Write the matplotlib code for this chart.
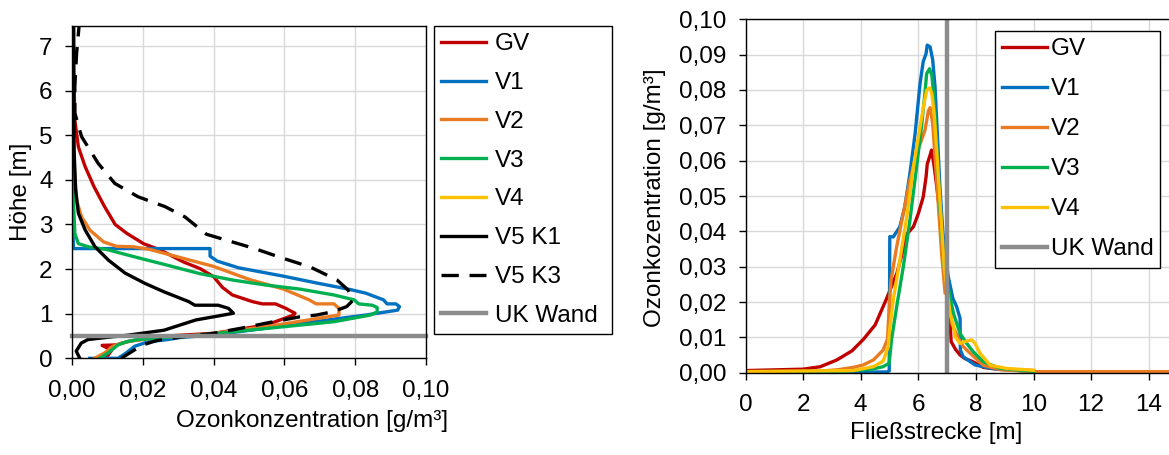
import matplotlib
matplotlib.use("Agg")
import matplotlib.pyplot as plt
from matplotlib.ticker import FuncFormatter, MultipleLocator

plt.rcParams['font.family'] = ['Liberation Sans', 'DejaVu Sans']
FS = 17.5

# ---------------- Left chart: concentration profile over height ----------------
gv_conc = [0.0098, 0.0112, 0.0085, 0.0125, 0.016, 0.022, 0.0268, 0.040, 0.055, 0.0626, 0.063, 0.0604,
           0.0575, 0.0538, 0.051, 0.0453, 0.0425, 0.040, 0.0362, 0.0315, 0.0249, 0.0202, 0.0155, 0.0122,
           0.0092, 0.0062, 0.0037, 0.0018, 0.0008, 0.0005, 0.0005]
gv_h = [0.03, 0.18, 0.29, 0.30, 0.38, 0.45, 0.50, 0.56, 0.75, 0.97, 1.01, 1.12,
        1.22, 1.22, 1.27, 1.42, 1.59, 1.83, 2.01, 2.16, 2.43, 2.57, 2.80, 3.00,
        3.40, 3.85, 4.30, 4.74, 5.34, 6.50, 7.45]

v1_conc = [0.005, 0.013, 0.0153, 0.0177, 0.0215, 0.027, 0.031, 0.040, 0.0645, 0.083, 0.092, 0.0925,
           0.0915, 0.089, 0.088, 0.083, 0.0787, 0.069, 0.0598, 0.047, 0.041, 0.039, 0.039, 0.0004,
           0.0003, 0.0002, 0.0002]
v1_h = [0.0, 0.0, 0.12, 0.27, 0.37, 0.42, 0.47, 0.52, 0.78, 0.97, 1.08, 1.16,
        1.22, 1.22, 1.31, 1.46, 1.54, 1.69, 1.84, 2.03, 2.18, 2.29, 2.46, 2.46,
        2.8, 4.0, 7.45]

v2_conc = [0.0064, 0.0092, 0.0116, 0.0139, 0.0175, 0.024, 0.036, 0.055, 0.0754, 0.0754, 0.074, 0.069,
           0.067, 0.0598, 0.050, 0.040, 0.031, 0.022, 0.0174, 0.0126, 0.0089, 0.0051, 0.0027, 0.0013,
           0.0008, 0.0006, 0.0003, 0.0002]
v2_h = [0.0, 0.12, 0.27, 0.34, 0.40, 0.46, 0.52, 0.71, 0.97, 1.12, 1.22, 1.22,
        1.31, 1.55, 1.77, 2.06, 2.25, 2.44, 2.50, 2.51, 2.61, 2.87, 3.17, 3.54,
        4.14, 4.4, 5.0, 7.45]

v3_conc = [0.0078, 0.0102, 0.013, 0.0153, 0.0185, 0.025, 0.036, 0.055, 0.074, 0.0843, 0.0862, 0.0862,
           0.0848, 0.081, 0.0797, 0.074, 0.0645, 0.055, 0.0457, 0.036, 0.0268, 0.0174, 0.0098, 0.0051,
           0.0018, 0.0008, 0.0004, 0.0002, 0.0001]
v3_h = [0.0, 0.12, 0.30, 0.37, 0.42, 0.46, 0.52, 0.67, 0.82, 0.97, 1.04, 1.14,
        1.19, 1.22, 1.31, 1.42, 1.55, 1.64, 1.75, 1.90, 2.09, 2.28, 2.44, 2.49,
        2.57, 2.80, 3.54, 4.2, 7.45]

v4_conc = []
v4_h = []

v5k1_conc = [0.0022, 0.0012, 0.0026, 0.0045, 0.010, 0.016, 0.026, 0.035, 0.040, 0.0456, 0.0442, 0.0413,
             0.0347, 0.033, 0.026, 0.0206, 0.015, 0.0103, 0.0065, 0.0037, 0.0018, 0.0010, 0.0006, 0.0005,
             0.0004]
v5k1_h = [0.0, 0.16, 0.34, 0.42, 0.47, 0.52, 0.63, 0.86, 0.93, 1.01, 1.12, 1.19,
          1.19, 1.27, 1.49, 1.68, 1.91, 2.2, 2.5, 2.88, 3.25, 3.8, 4.66, 5.78,
          7.45]

v5k3_conc = [0.0139, 0.0177, 0.020, 0.024, 0.030, 0.040, 0.0475, 0.0569, 0.0644, 0.0691, 0.074, 0.0776,
             0.0795, 0.078, 0.0748, 0.0672, 0.0597, 0.0512, 0.038, 0.0319, 0.0263, 0.0187, 0.0121, 0.0074,
             0.0027, 0.0008, 0.0008, 0.0013, 0.002]
v5k3_h = [0.0, 0.19, 0.30, 0.40, 0.47, 0.56, 0.67, 0.82, 0.93, 0.97, 1.05, 1.16,
          1.31, 1.53, 1.76, 2.05, 2.24, 2.47, 2.78, 3.17, 3.40, 3.62, 3.92, 4.37,
          4.97, 5.5, 6.09, 6.84, 7.45]

uk_wand_height = 0.5

# ---------------- Right chart: concentration along flow path ----------------
gv_x = [0, 2.0, 2.6, 3.17, 3.7, 4.1, 4.5, 4.88, 5.26, 5.62, 5.83, 6.0, 6.17, 6.27, 6.31, 6.41, 6.46,
        6.54, 6.64, 6.75, 6.87, 7.0, 7.1, 7.14, 7.3, 7.45, 7.62, 7.85, 8.26, 8.84, 10.0]
gv_y = [0.0006, 0.001, 0.0017, 0.0036, 0.0062, 0.0095, 0.0135, 0.0206, 0.0282, 0.0394, 0.0413, 0.045,
        0.0497, 0.0554, 0.059, 0.0616, 0.063, 0.059, 0.0527, 0.0451, 0.0376, 0.026, 0.0149, 0.0088,
        0.0065, 0.005, 0.004, 0.0033, 0.0015, 0.0009, 0.0006]

v1_x = [0, 4.9, 4.99, 5.01, 5.13, 5.36, 5.53, 5.71, 5.89, 6.06, 6.17, 6.27, 6.31, 6.41, 6.50, 6.58,
        6.66, 6.75, 6.87, 7.04, 7.2, 7.33, 7.45, 7.46, 7.56, 7.97, 8.55, 10.0]
v1_y = [0.0002, 0.0002, 0.0005, 0.0385, 0.0384, 0.0413, 0.0469, 0.0564, 0.0677, 0.0818, 0.088, 0.0903,
        0.0927, 0.0922, 0.0885, 0.081, 0.0677, 0.0527, 0.0376, 0.0272, 0.021, 0.0187, 0.0154, 0.0064,
        0.0045, 0.0022, 0.0012, 0.0003]

v2_x = [0, 2.5, 3.17, 3.74, 4.09, 4.44, 4.78, 4.93, 5.0, 5.05, 5.25, 5.48, 5.71, 5.94, 6.11, 6.23,
        6.29, 6.35, 6.41, 6.50, 6.59, 6.70, 6.81, 6.93, 7.05, 7.16, 7.39, 7.56, 7.8, 8.0, 8.26, 8.84,
        10.0, 14.75]
v2_y = [0.0003, 0.0004, 0.0008, 0.0015, 0.0022, 0.0036, 0.0064, 0.0095, 0.020, 0.026, 0.0357, 0.0451,
        0.0545, 0.062, 0.0658, 0.0686, 0.0713, 0.0741, 0.075, 0.0705, 0.0601, 0.0469, 0.0337, 0.0225,
        0.022, 0.014, 0.0097, 0.0074, 0.0055, 0.0040, 0.0021, 0.0009, 0.0003, 0.0003]

v3_x = [0, 3.5, 4.44, 4.78, 4.99, 5.07, 5.25, 5.48, 5.71, 5.94, 6.11, 6.23, 6.29, 6.39, 6.47, 6.55,
        6.64, 6.75, 6.90, 7.10, 7.22, 7.45, 7.68, 7.91, 8.26, 8.84, 10.0]
v3_y = [0.0003, 0.0004, 0.0011, 0.0017, 0.0027, 0.0093, 0.0187, 0.030, 0.0432, 0.0582, 0.0696, 0.079,
        0.0846, 0.086, 0.0842, 0.0771, 0.064, 0.047, 0.030, 0.0216, 0.0168, 0.0111, 0.0083, 0.0059,
        0.0031, 0.0012, 0.0004]

v4_x = [0, 3.74, 4.44, 4.78, 4.96, 4.99, 5.13, 5.36, 5.60, 5.83, 6.06, 6.20, 6.29, 6.39, 6.47, 6.55,
        6.66, 6.78, 6.90, 7.10, 7.20, 7.28, 7.45, 7.62, 7.85, 7.97, 8.14, 8.5, 9.07, 10.0]
v4_y = [0.0003, 0.0006, 0.0017, 0.0033, 0.0075, 0.0111, 0.0206, 0.0319, 0.0441, 0.0582, 0.0696, 0.0762,
        0.0799, 0.0806, 0.079, 0.0733, 0.0601, 0.0451, 0.030, 0.0168, 0.014, 0.0102, 0.0083, 0.0088,
        0.0093, 0.0083, 0.0055, 0.0021, 0.0012, 0.0007]

uk_wand_x = 7.0

C_GV = '#C00000'
C_V1 = '#0070C0'
C_V2 = '#E97B23'
C_V3 = '#00B050'
C_V4 = '#FFC000'
C_UK = '#8C8C8C'
LW = 2.4

W, H = 1169, 455
fig = plt.figure(figsize=(W / 100, H / 100), dpi=100)

comma2 = FuncFormatter(lambda v, p: f"{v:.2f}".replace('.', ','))


def style_axes(ax):
    ax.grid(True, color='#D9D9D9', linewidth=1.0)
    ax.set_axisbelow(True)
    ax.tick_params(direction='out', length=5, width=1, labelsize=FS, color='black')
    ax.tick_params(axis='x', pad=10.5)
    ax.tick_params(axis='y', pad=9)
    for s in ax.spines.values():
        s.set_color('black')
        s.set_linewidth(1.0)


leg_kw = dict(loc='upper left', bbox_transform=fig.transFigure, mode='expand', fontsize=FS,
              frameon=True, fancybox=False, edgecolor='black', framealpha=1, borderaxespad=0,
              handlelength=1.85, borderpad=0.3)

# Left axes
ax1 = fig.add_axes([72 / W, 1 - 358.3 / H, (426 - 72) / W, (358.3 - 26) / H])
ax1.plot(gv_conc, gv_h, color=C_GV, lw=LW, label='GV')
ax1.plot(v1_conc, v1_h, color=C_V1, lw=LW, label='V1')
ax1.plot(v2_conc, v2_h, color=C_V2, lw=LW, label='V2')
ax1.plot(v3_conc, v3_h, color=C_V3, lw=LW, label='V3')
ax1.plot(v4_conc, v4_h, color=C_V4, lw=LW, label='V4')
ax1.plot(v5k1_conc, v5k1_h, color='black', lw=LW, label='V5 K1')
ax1.plot(v5k3_conc, v5k3_h, color='black', lw=LW, dashes=(5.2, 3.2), label='V5 K3')
ax1.axhline(uk_wand_height, color=C_UK, lw=3.2, label='UK Wand', clip_on=False)
ax1.set_xlim(0, 0.10)
ax1.set_ylim(0, 7.45)
ax1.xaxis.set_major_locator(MultipleLocator(0.02))
ax1.yaxis.set_major_locator(MultipleLocator(1))
ax1.xaxis.set_major_formatter(comma2)
style_axes(ax1)
ax1.set_xlabel('Ozonkonzentration [g/m³]', fontsize=FS)
ax1.set_ylabel('Höhe [m]', fontsize=FS)
ax1.xaxis.set_label_coords(0.678, -0.189)
ax1.yaxis.set_label_coords(-0.144, 0.5)
ax1.xaxis.label.set_va('center')
ax1.yaxis.label.set_va('center')
leg1 = ax1.legend(bbox_to_anchor=(434 / W, 1 - 334 / H, 178 / W, 308 / H),
                  handletextpad=0.35, labelspacing=0.69, **leg_kw)
leg1.get_frame().set_linewidth(1.0)

# Right axes
ax2 = fig.add_axes([745.5 / W, 1 - 372.7 / H, (W - 745.5) / W, (372.7 - 19.3) / H])
ax2.plot(gv_x, gv_y, color=C_GV, lw=LW, label='GV')
ax2.plot(v1_x, v1_y, color=C_V1, lw=LW, label='V1')
ax2.plot(v2_x, v2_y, color=C_V2, lw=LW, label='V2')
ax2.plot(v3_x, v3_y, color=C_V3, lw=LW, label='V3')
ax2.plot(v4_x, v4_y, color=C_V4, lw=LW, label='V4')
ax2.axvline(uk_wand_x, color=C_UK, lw=3.2, label='UK Wand')
ax2.set_xlim(0, (W - 745.5) / 28.8)
ax2.set_ylim(0, 0.10)
ax2.xaxis.set_major_locator(MultipleLocator(2))
ax2.yaxis.set_major_locator(MultipleLocator(0.01))
ax2.yaxis.set_major_formatter(comma2)
style_axes(ax2)
ax2.spines['right'].set_visible(False)
ax2.set_xlabel('Fließstrecke [m]', fontsize=FS)
ax2.set_ylabel('Ozonkozentration [g/m³]', fontsize=FS)
ax2.xaxis.set_label_coords(0.45, -0.171)
ax2.yaxis.set_label_coords(-0.214, 0.494)
ax2.xaxis.label.set_va('center')
ax2.yaxis.label.set_va('center')
leg2 = ax2.legend(bbox_to_anchor=(995 / W, 1 - 268 / H, 165 / W, 237 / H),
                  handletextpad=0.15, labelspacing=0.74, **leg_kw)
leg2.get_frame().set_linewidth(1.0)

fig.savefig('out.png', dpi=100)
